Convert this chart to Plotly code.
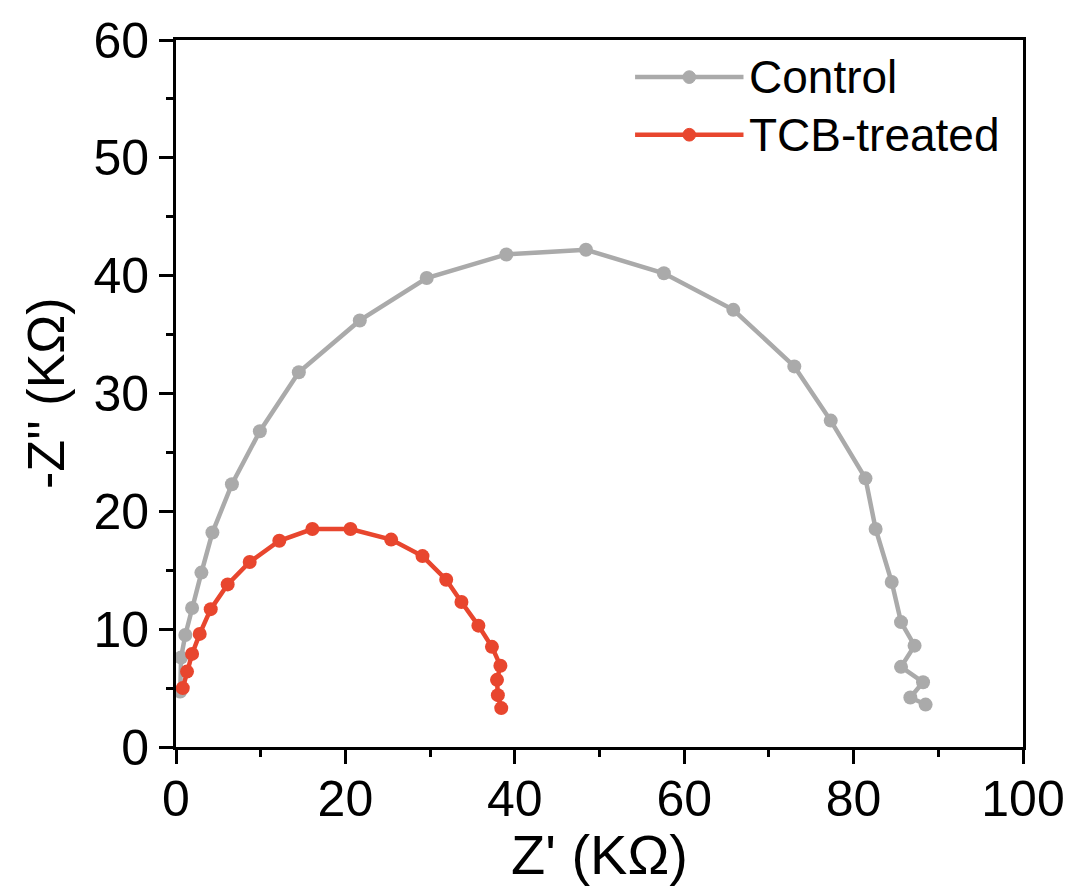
import plotly.graph_objects as go

# Data (Z' and -Z'' in kOhm)
control_x = [0.5, 0.6, 1.1, 1.9, 3.0, 4.3, 6.6, 9.9, 14.5, 21.7, 29.6, 39.0, 48.4, 57.6, 65.8,
             73.0, 77.3, 81.4, 82.6, 84.5, 85.6, 87.2, 85.6, 88.2, 86.7, 88.5]
control_y = [4.7, 7.6, 9.5, 11.8, 14.8, 18.2, 22.3, 26.8, 31.8, 36.2, 39.8, 41.8, 42.2, 40.2, 37.1,
             32.3, 27.7, 22.8, 18.5, 14.0, 10.6, 8.6, 6.8, 5.5, 4.2, 3.6]

tcb_x = [0.8, 1.3, 1.9, 2.8, 4.1, 6.1, 8.7, 12.2, 16.1, 20.6, 25.4, 29.1, 31.9, 33.7, 35.7,
         37.3, 38.3, 37.9, 38.0, 38.4]
tcb_y = [5.0, 6.4, 7.9, 9.6, 11.7, 13.8, 15.7, 17.5, 18.5, 18.5, 17.6, 16.2, 14.2, 12.3, 10.3,
         8.5, 6.9, 5.7, 4.4, 3.3]

series_names = ["Control", "TCB-treated"]
x_ticks = [0, 20, 40, 60, 80, 100]
y_ticks = [0, 10, 20, 30, 40, 50, 60]

GRAY = "#AAAAAA"
RED = "#E8462E"
FONT = "Arial, Liberation Sans, sans-serif"

fig = go.Figure()
fig.add_trace(go.Scatter(x=control_x, y=control_y, mode="lines+markers", name=series_names[0],
                         line=dict(color=GRAY, width=4.5), marker=dict(color=GRAY, size=14, symbol="circle"),
                         showlegend=False))
fig.add_trace(go.Scatter(x=tcb_x, y=tcb_y, mode="lines+markers", name=series_names[1],
                         line=dict(color=RED, width=4.5), marker=dict(color=RED, size=14, symbol="circle"),
                         showlegend=False))

axis_common = dict(showline=True, linecolor="black", linewidth=3, mirror=True,
                   ticks="outside", ticklen=14, tickwidth=3, tickcolor="black",
                   showgrid=False, zeroline=False,
                   tickfont=dict(family=FONT, size=50, color="black"))

fig.update_xaxes(range=[0, 100], tickvals=x_ticks, ticklabelstandoff=-8, **axis_common,
                 minor=dict(ticks="outside", ticklen=7, tickwidth=3, tickcolor="black", dtick=10, showgrid=False))
fig.update_yaxes(range=[0, 60], tickvals=y_ticks, **axis_common,
                 minor=dict(ticks="outside", ticklen=7, tickwidth=3, tickcolor="black", dtick=5, showgrid=False))

# Axis titles as annotations
fig.add_annotation(text="Z' (KΩ)", xref="paper", yref="paper", x=0.5, y=-0.152,
                   xanchor="center", yanchor="middle", showarrow=False,
                   font=dict(family=FONT, size=56, color="black"))
fig.add_annotation(text="-Z'' (KΩ)", xref="paper", yref="paper", x=-0.154, y=0.5,
                   xanchor="center", yanchor="middle", textangle=-90, showarrow=False,
                   font=dict(family=FONT, size=52, color="black"))

# Manual legend
legend_items = [(series_names[0], GRAY, 0.9475), (series_names[1], RED, 0.866)]
for name, col, yp in legend_items:
    fig.add_shape(type="line", xref="paper", yref="paper", x0=0.542, x1=0.670, y0=yp, y1=yp,
                  line=dict(color=col, width=4.5))
    fig.add_shape(type="circle", xref="paper", yref="paper",
                  x0=0.606 - 0.0075, x1=0.606 + 0.0075, y0=yp - 0.009, y1=yp + 0.009,
                  fillcolor=col, line=dict(color=col, width=1))
    fig.add_annotation(text=name, xref="paper", yref="paper", x=0.674, y=yp,
                       xanchor="left", yanchor="middle", showarrow=False,
                       font=dict(family=FONT, size=46, color="black"))

fig.update_layout(width=1077, height=887, margin=dict(l=176, r=52, t=38, b=140),
                  plot_bgcolor="white", paper_bgcolor="white", showlegend=False)

fig.write_html("out.html")
